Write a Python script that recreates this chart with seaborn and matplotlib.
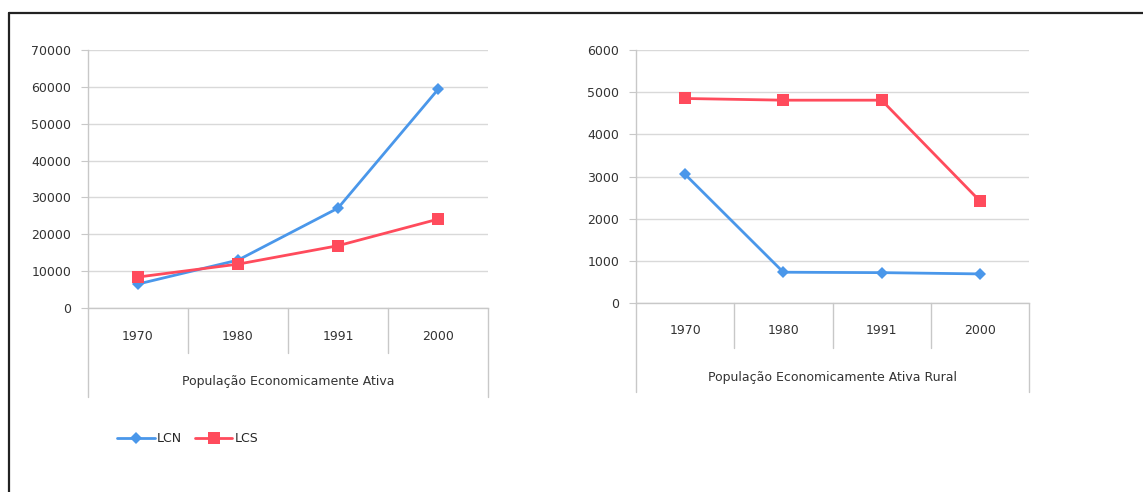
# -*- coding: utf-8 -*-
"""
PEA e PEA rural - LCN x LCS (1970-2000)
"""

import pandas as pd
import seaborn as sns
import matplotlib.pyplot as plt
from matplotlib.lines import Line2D
import matplotlib.transforms as mtransforms

#%% dados
anos = ["1970", "1980", "1991", "2000"]
series = ["LCN", "LCS"]

pea_lcn = [6500, 13000, 27100, 59300]
pea_lcs = [8400, 11900, 16900, 24100]

rural_lcn = [3050, 730, 720, 690]
rural_lcs = [4850, 4810, 4810, 2420]

titulo_pea = "População Economicamente Ativa"
titulo_rural = "População Economicamente Ativa Rural"

cores = {"LCN": "#4a97ea", "LCS": "#ff4b5c"}
marcadores = {"LCN": "D", "LCS": "s"}
tamanhos = {"LCN": 6.5, "LCS": 8}


def to_long(lcn, lcs):
    rows = []
    for i, ano in enumerate(anos):
        rows.append({"pos": i, "ano": ano, "serie": "LCN", "valor": lcn[i]})
        rows.append({"pos": i, "ano": ano, "serie": "LCS", "valor": lcs[i]})
    return pd.DataFrame(rows)


df_pea = to_long(pea_lcn, pea_lcs)
df_rural = to_long(rural_lcn, rural_lcs)

#%% figura
sns.set_style("white")
plt.rcParams["font.family"] = ["DejaVu Sans"]

W, H = 1143, 492
fig = plt.figure(figsize=(W / 100, H / 100), dpi=100)
FS = 9


def px_axes(x0, x1, ytop, ybot):
    return fig.add_axes([x0 / W, 1 - ybot / H, (x1 - x0) / W, (ybot - ytop) / H])


def draw_panel(ax, df, ymax, step, group_label):
    sns.lineplot(data=df, x="pos", y="valor", hue="serie", style="serie",
                 palette=cores, markers=marcadores, dashes=False,
                 linewidth=2, markersize=7, markeredgewidth=0, ax=ax)
    # ajusta tamanho do marcador por serie (quadrado maior que losango)
    for line, s in zip(ax.get_lines(), series):
        line.set_markersize(tamanhos[s])
    ax.set_xlim(-0.5, 3.5)
    ax.set_ylim(0, ymax)
    ax.set_yticks(range(0, ymax + 1, step))
    ax.set_xticks([])
    ax.set_xlabel("")
    ax.set_ylabel("")
    ax.grid(axis="y", color="#d9d9d9", linewidth=1)
    ax.set_axisbelow(True)
    for s in ["top", "right"]:
        ax.spines[s].set_visible(False)
    for s in ["left", "bottom"]:
        ax.spines[s].set_color("#c8c8c8")
        ax.spines[s].set_linewidth(1)
    ax.tick_params(axis="y", left=True, length=5, color="#c8c8c8",
                   labelsize=FS, labelcolor="#333333", pad=7)
    ax.get_legend().remove()

    # eixo de categorias em dois niveis (anos + rotulo do grupo)
    trans = mtransforms.blended_transform_factory(ax.transData, ax.transAxes)
    h_px = ax.get_position().height * H
    sep = -45 / h_px
    outer = -89 / h_px
    for xb in [0.5, 1.5, 2.5]:
        ax.plot([xb, xb], [0, sep], transform=trans, color="#c8c8c8",
                linewidth=1, clip_on=False)
    for xb in [-0.5, 3.5]:
        ax.plot([xb, xb], [0, outer], transform=trans, color="#c8c8c8",
                linewidth=1, clip_on=False)
    for i, ano in enumerate(anos):
        ax.text(i, -28 / h_px, ano, transform=trans, ha="center", va="center",
                fontsize=FS, color="#333333")
    ax.text(1.5, -74 / h_px, group_label, transform=trans, ha="center",
            va="center", fontsize=FS, color="#333333")


ax1 = px_axes(88, 488, 50, 308)
draw_panel(ax1, df_pea, 70000, 10000, titulo_pea)

ax2 = px_axes(636, 1029, 50, 303)
draw_panel(ax2, df_rural, 6000, 1000, titulo_rural)

# legenda
handles = [Line2D([], [], color=cores[s], marker=marcadores[s], linewidth=2,
                  markersize=tamanhos[s], markeredgewidth=0) for s in series]
fig.legend(handles, series, loc="center left", bbox_to_anchor=(106 / W, 1 - 439 / H),
           ncol=2, frameon=False, fontsize=FS, handlelength=3, columnspacing=1.0,
           handletextpad=0.2)

# moldura (so topo e esquerda aparecem no recorte)
fig.add_artist(Line2D([9 / W, 1], [1 - 13 / H, 1 - 13 / H], color="#222222",
                      linewidth=1.6, transform=fig.transFigure))
fig.add_artist(Line2D([9 / W, 9 / W], [0, 1 - 13 / H], color="#222222",
                      linewidth=1.6, transform=fig.transFigure))

plt.savefig("out.png", dpi=100)
